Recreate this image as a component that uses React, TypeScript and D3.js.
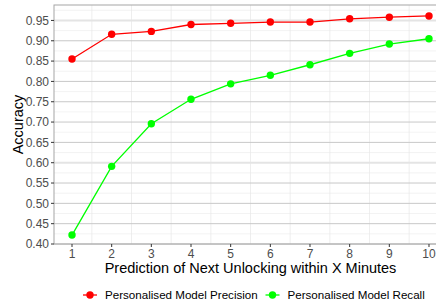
import React from "react";
import * as d3 from "d3";

const minutes = [1, 2, 3, 4, 5, 6, 7, 8, 9, 10];
const precision = [0.855, 0.916, 0.923, 0.94, 0.943, 0.946, 0.946, 0.954, 0.958, 0.961];
const recall = [0.422, 0.591, 0.696, 0.756, 0.794, 0.815, 0.841, 0.869, 0.892, 0.905];
const yTicks = [0.4, 0.45, 0.5, 0.55, 0.6, 0.65, 0.7, 0.75, 0.8, 0.85, 0.9, 0.95];
const seriesNames = ["Personalised Model Precision", "Personalised Model Recall"];
const colors = ["#ff0000", "#00ff00"];

const W = 436;
const H = 307;
const margin = { left: 54, top: 5, right: -11, bottom: 63 };
const font = "'Liberation Sans', Arial, sans-serif";

const App = () => {
  const x = d3.scaleLinear().domain([0.546, 10.454]).range([margin.left, W - margin.right]);
  const y = d3.scaleLinear().domain([0.4, 0.988]).range([H - margin.bottom, margin.top]);
  const line = d3.line<number>().x((_, i) => x(minutes[i])).y((d) => y(d));
  const [x0, x1] = x.range();
  const [y0, y1] = y.range();

  const minorY = d3.range(0.425, 0.99, 0.05);
  const minorX = d3.range(0.5, 11, 1).filter((v) => x(v) > x0);

  return (
    <svg width={W} height={H} style={{ position: "absolute", left: 0, top: 0, fontFamily: font }}>
      <rect x={0} y={0} width={W} height={H} fill="white" />
      {/* grid */}
      {minorY.map((v) => (
        <line key={"my" + v} x1={x0} x2={x1} y1={y(v)} y2={y(v)} stroke="#ebebeb" strokeWidth={0.6} />
      ))}
      {minorX.map((v) => (
        <line key={"mx" + v} x1={x(v)} x2={x(v)} y1={y0} y2={y1} stroke="#e6e6e6" strokeWidth={0.7} />
      ))}
      {yTicks.map((v) => (
        <line
          key={"gy" + v}
          x1={x0}
          x2={x1}
          y1={y(v)}
          y2={y(v)}
          stroke={v === 0.95 || v === 0.6 ? "#e4e4e4" : "#c8c8c8"}
          strokeWidth={v === 0.95 || v === 0.6 ? 2 : 1}
        />
      ))}
      {/* panel border */}
      <rect x={x0} y={y1} width={x1 - x0} height={y0 - y1} fill="none" stroke="#a6a6a6" strokeWidth={1} />

      {/* series */}
      {[precision, recall].map((s, k) => (
        <g key={k}>
          <path d={line(s) || ""} fill="none" stroke={colors[k]} strokeWidth={1.3} />
          {s.map((v, i) => (
            <circle key={i} cx={x(minutes[i])} cy={y(v)} r={3.7} fill={colors[k]} />
          ))}
        </g>
      ))}

      {/* y axis */}
      {yTicks.map((v) => (
        <g key={"ty" + v} transform={`translate(0,${y(v)})`}>
          <line x1={x0 - 3} x2={x0} stroke="#333" strokeWidth={1} />
          <text x={x0 - 5} dy="0.35em" textAnchor="end" fontSize={12} fill="#4d4d4d">
            {v.toFixed(2)}
          </text>
        </g>
      ))}
      {/* x axis */}
      {minutes.map((v) => (
        <g key={"tx" + v} transform={`translate(${x(v)},0)`}>
          <line y1={y0} y2={y0 + 3} stroke="#333" strokeWidth={1} />
          <text y={y0 + 14} textAnchor="middle" fontSize={12} fill="#4d4d4d">
            {v}
          </text>
        </g>
      ))}

      <text x={(x0 + x1) / 2} y={273} textAnchor="middle" fontSize={14.5} fill="#000">
        Prediction of Next Unlocking within X Minutes
      </text>
      <text transform={`translate(23,${(y0 + y1) / 2}) rotate(-90)`} textAnchor="middle" fontSize={14.5} fill="#000">
        Accuracy
      </text>

      {/* legend */}
      {seriesNames.map((name, k) => {
        const lx = k === 0 ? 90 : 272.5;
        return (
          <g key={name} transform={`translate(${lx},295)`}>
            <line x1={-7} x2={7} stroke={colors[k]} strokeWidth={1.3} />
            <circle r={3.7} fill={colors[k]} />
            <text x={15} dy="0.35em" fontSize={11.6} fill="#000">
              {name}
            </text>
          </g>
        );
      })}
    </svg>
  );
};

export default App;
